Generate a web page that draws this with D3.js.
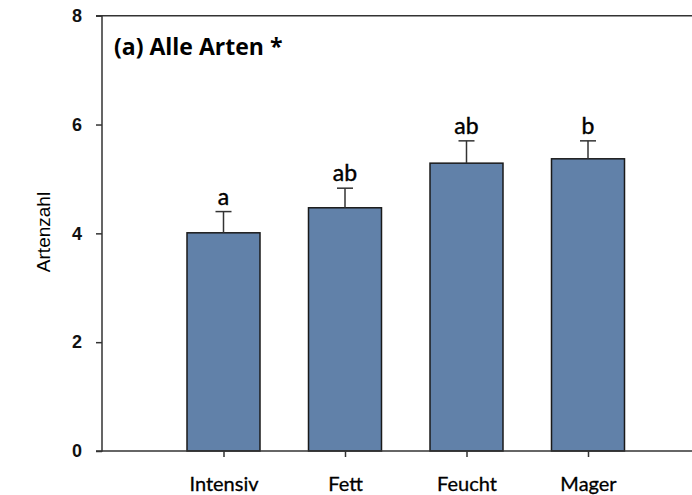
<!DOCTYPE html>
<html><head><meta charset="utf-8">
<script src="https://cdn.jsdelivr.net/npm/d3@7"></script>
<style>body{margin:0;background:#fff}svg{display:block}</style>
</head><body><svg id="c" width="692" height="495"></svg>
<script>
const categories = ["Intensiv","Fett","Feucht","Mager"];
const means = [4.01, 4.47, 5.29, 5.37];
const errUpper = [4.40, 4.83, 5.70, 5.70];
const letters = ["a","ab","ab","b"];
const yTicks = [0,2,4,6,8];
const title = "(a) Alle Arten *";
const yLabel = "Artenzahl";

(function(){
const svg = d3.select("#c");
const mLeft = 102, mRight = 709.5, mTop = 15.7, mBottom = 451;
const x = d3.scalePoint().domain(categories).range([mLeft, mRight]).padding(1);
const y = d3.scaleLinear().domain([0,8]).range([mBottom, mTop]);
const bw = 73;
const axisCol = "#333";

// bars
svg.selectAll("rect.bar").data(categories).join("rect")
  .attr("x", d => x(d) - bw/2)
  .attr("y", (d,i) => y(means[i]))
  .attr("width", bw)
  .attr("height", (d,i) => y(0) - y(means[i]))
  .attr("fill", "#6181a9")
  .attr("stroke", "#1a1a1a")
  .attr("stroke-width", 1.5);

// error bars
const eb = svg.append("g").attr("stroke", "#333").attr("stroke-width", 1.5);
categories.forEach((c,i) => {
  eb.append("line").attr("x1", x(c)).attr("x2", x(c)).attr("y1", y(means[i])).attr("y2", y(errUpper[i]));
  eb.append("line").attr("x1", x(c)-8).attr("x2", x(c)+8).attr("y1", y(errUpper[i])).attr("y2", y(errUpper[i]));
});

// letters
svg.selectAll("text.let").data(categories).join("text")
  .attr("x", d => x(d))
  .attr("y", (d,i) => y(errUpper[i]) - 7)
  .attr("text-anchor", "middle")
  .attr("font-family", "Lato, sans-serif")
  .attr("font-size", 23)
  .attr("fill", "#000")
  .attr("stroke", "#000").attr("stroke-width", 0.4)
  .text((d,i) => letters[i]);

// y axis
const ya = svg.append("g").attr("transform", `translate(${mLeft},0)`)
  .call(d3.axisLeft(y).tickValues(yTicks).tickSize(6).tickPadding(14).tickFormat(d3.format("d")));
ya.select(".domain").attr("stroke", axisCol).attr("stroke-width", 1.5).attr("d", `M-6,${y(8)}H0V${y(0)}H-6`);
ya.selectAll(".tick line").attr("stroke", axisCol).attr("stroke-width", 1.5);
ya.selectAll(".tick text").attr("font-family", "Liberation Sans, Arial, sans-serif").attr("font-weight", "bold")
  .attr("font-size", 18).attr("fill", "#111");

// x axis
const xa = svg.append("g").attr("transform", `translate(0,${mBottom})`)
  .call(d3.axisBottom(x).tickSize(6).tickPadding(20));
xa.select(".domain").attr("stroke", axisCol).attr("stroke-width", 1.5).attr("d", `M${mLeft},0H692`);
xa.selectAll(".tick line").attr("stroke", axisCol).attr("stroke-width", 1.5);
xa.selectAll(".tick text").attr("font-family", "Lato, sans-serif").attr("font-size", 20)
  .attr("fill", "#000").attr("stroke", "#000").attr("stroke-width", 0.3);

// top frame line
svg.append("line").attr("x1", mLeft).attr("x2", 692).attr("y1", y(8)).attr("y2", y(8))
  .attr("stroke", axisCol).attr("stroke-width", 1.5);

// title
svg.append("text").attr("x", 114).attr("y", 55)
  .attr("font-family", "Open Sans, sans-serif").attr("font-weight", "bold").attr("font-size", 23)
  .attr("fill", "#000").text(title);

// y label
svg.append("text").attr("transform", `translate(50,232) rotate(-90)`)
  .attr("text-anchor", "middle")
  .attr("font-family", "Liberation Sans, Arial, sans-serif").attr("font-size", 19)
  .attr("fill", "#000").text(yLabel);
})();
</script></body></html>
